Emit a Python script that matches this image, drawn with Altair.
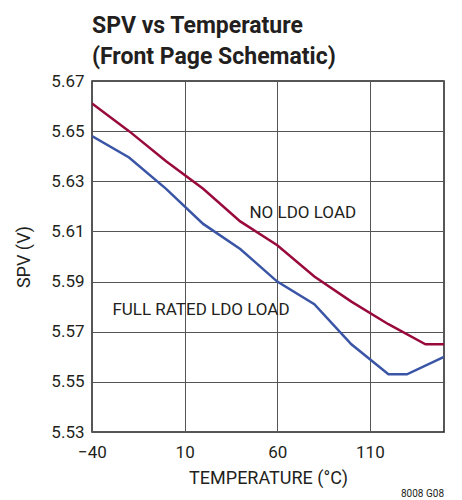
import altair as alt
import pandas as pd

temp_no_load = [-40, -20, 0, 20, 40, 60, 80, 100, 120, 140, 150]
spv_no_load = [5.661, 5.650, 5.638, 5.627, 5.614, 5.6045, 5.592, 5.582, 5.573, 5.565, 5.565]

temp_full = [-40, -20, 0, 20, 40, 60, 80, 100, 120, 130, 150]
spv_full = [5.648, 5.6395, 5.627, 5.613, 5.603, 5.590, 5.581, 5.565, 5.553, 5.553, 5.560]

series_names = ["NO LDO LOAD", "FULL RATED LDO LOAD"]
series_colors = ["#990a3c", "#3a55a5"]

label_text = ["NO LDO LOAD", "FULL RATED LDO LOAD"]
label_x = [45, -29]
label_y = [5.6153, 5.5767]

x_ticks = [-40, 10, 60, 110]
y_ticks = [5.53, 5.55, 5.57, 5.59, 5.61, 5.63, 5.65, 5.67]

FONT = "Roboto"

df = pd.concat([
    pd.DataFrame({"t": temp_no_load, "v": spv_no_load, "s": series_names[0]}),
    pd.DataFrame({"t": temp_full, "v": spv_full, "s": series_names[1]}),
])
labels = pd.DataFrame({"t": label_x, "v": label_y, "txt": label_text})

xscale = alt.Scale(domain=[-40, 150], nice=False, zero=False)
yscale = alt.Scale(domain=[5.53, 5.67], nice=False, zero=False)

lines = alt.Chart(df).mark_line(strokeWidth=2.5, clip=True).encode(
    x=alt.X("t:Q", scale=xscale, title="TEMPERATURE (°C)",
            axis=alt.Axis(values=x_ticks, labelFlush=False,
                          labelExpr="replace(datum.label, '-', '–')")),
    y=alt.Y("v:Q", scale=yscale, title="SPV (V)",
            axis=alt.Axis(values=y_ticks, format=".2f", labelFlush=False)),
    color=alt.Color("s:N", scale=alt.Scale(domain=series_names, range=series_colors), legend=None),
)

text = alt.Chart(labels).mark_text(align="left", baseline="alphabetic", fontSize=17,
                                   font=FONT, color="#231f20").encode(
    x=alt.X("t:Q", scale=xscale),
    y=alt.Y("v:Q", scale=yscale),
    text="txt:N",
)

footer = alt.Chart(pd.DataFrame({"f": ["8008 G08"]})).mark_text(
    align="right", baseline="alphabetic", fontSize=10, font=FONT, color="#231f20"
).encode(x=alt.value(352), y=alt.value(416), text="f:N")

chart = alt.layer(lines, text, footer).properties(
    width=352, height=351,
    autosize=alt.AutoSizeParams(type="none"),
    padding={"left": 84, "top": 73, "right": 10, "bottom": 72},
    title=alt.TitleParams(
        text=["SPV vs Temperature", "(Front Page Schematic)"],
        anchor="start", frame="group", font=FONT, fontSize=23, fontWeight="bold",
        lineHeight=31, color="#231f20", offset=3,
    ),
).configure_view(stroke="#231f20", strokeWidth=1.5).configure_axis(
    grid=True, gridColor="#555555", gridWidth=1, gridOpacity=1,
    domain=False, ticks=False,
    labelFont=FONT, labelFontSize=17, labelColor="#231f20",
    titleFont=FONT, titleFontSize=18, titleFontWeight="normal", titleColor="#231f20",
).configure_axisX(labelPadding=12, titlePadding=9).configure_axisY(labelPadding=8, titlePadding=17)

chart.save("out.html", embed_options={"renderer": "svg", "actions": False})
